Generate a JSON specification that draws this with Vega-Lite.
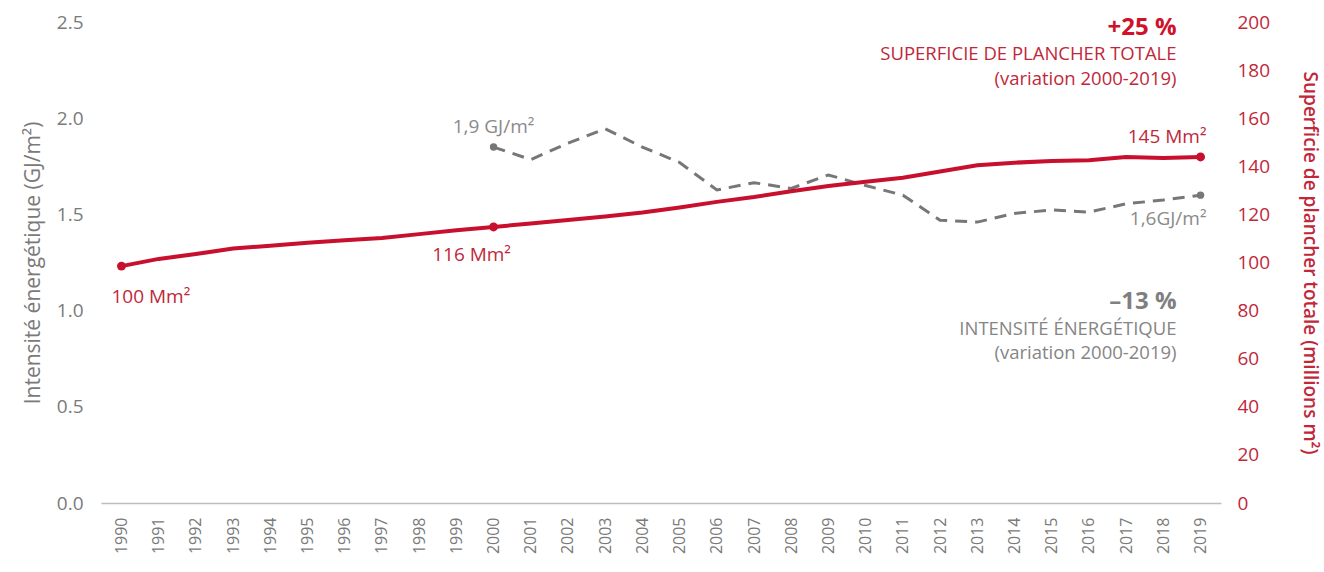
{
  "$schema": "https://vega.github.io/schema/vega-lite/v6.json",
  "width": 1120,
  "height": 481,
  "autosize": {"type": "none"},
  "padding": {"left": 101, "top": 22, "right": 103, "bottom": 69},
  "background": "white",
  "config": {
    "view": {"stroke": null},
    "font": "Open Sans",
    "axis": {"grid": false, "ticks": false}
  },
  "datasets": {
    "area": [
      {"year": 1990, "v": 98.5}, {"year": 1991, "v": 101.5}, {"year": 1992, "v": 103.5},
      {"year": 1993, "v": 105.8}, {"year": 1994, "v": 107.0}, {"year": 1995, "v": 108.2},
      {"year": 1996, "v": 109.3}, {"year": 1997, "v": 110.2}, {"year": 1998, "v": 111.8},
      {"year": 1999, "v": 113.4}, {"year": 2000, "v": 114.8}, {"year": 2001, "v": 116.2},
      {"year": 2002, "v": 117.7}, {"year": 2003, "v": 119.1}, {"year": 2004, "v": 120.8},
      {"year": 2005, "v": 122.9}, {"year": 2006, "v": 125.2}, {"year": 2007, "v": 127.2},
      {"year": 2008, "v": 129.6}, {"year": 2009, "v": 131.8}, {"year": 2010, "v": 133.6},
      {"year": 2011, "v": 135.2}, {"year": 2012, "v": 137.8}, {"year": 2013, "v": 140.4},
      {"year": 2014, "v": 141.5}, {"year": 2015, "v": 142.2}, {"year": 2016, "v": 142.5},
      {"year": 2017, "v": 143.9}, {"year": 2018, "v": 143.5}, {"year": 2019, "v": 143.9}
    ],
    "intensity": [
      {"year": 2000, "v": 1.85}, {"year": 2001, "v": 1.785}, {"year": 2002, "v": 1.87},
      {"year": 2003, "v": 1.945}, {"year": 2004, "v": 1.85}, {"year": 2005, "v": 1.77},
      {"year": 2006, "v": 1.627}, {"year": 2007, "v": 1.665}, {"year": 2008, "v": 1.635},
      {"year": 2009, "v": 1.705}, {"year": 2010, "v": 1.65}, {"year": 2011, "v": 1.6},
      {"year": 2012, "v": 1.47}, {"year": 2013, "v": 1.46}, {"year": 2014, "v": 1.505},
      {"year": 2015, "v": 1.523}, {"year": 2016, "v": 1.512}, {"year": 2017, "v": 1.555},
      {"year": 2018, "v": 1.575}, {"year": 2019, "v": 1.6}
    ]
  },
  "encoding": {
    "x": {
      "field": "year",
      "type": "ordinal",
      "scale": {"type": "point", "padding": 0.55},
      "axis": {
        "title": null,
        "labelAngle": -90,
        "labelPadding": 14,
        "labelFontSize": 16,
        "labelColor": "#7a7a7a",
        "domainColor": "#bdbdbd",
        "domainWidth": 1.5
      }
    }
  },
  "layer": [
    {
      "encoding": {
        "y": {
          "field": "v",
          "type": "quantitative",
          "scale": {"domain": [0, 2.5], "nice": false},
          "axis": {
            "orient": "left",
            "values": [0, 0.5, 1, 1.5, 2, 2.5],
            "format": ".1f",
            "domain": false,
            "labelPadding": 18,
            "labelFontSize": 19,
            "labelColor": "#7a7a7a",
            "title": "Intensité énergétique (GJ/m²)",
            "titleFontSize": 21,
            "titleFontWeight": "normal",
            "titleColor": "#7a7a7a",
            "titlePadding": 13
          }
        }
      },
      "layer": [
        {
          "data": {"name": "intensity"},
          "mark": {"type": "line", "color": "#777777", "strokeWidth": 3, "strokeDash": [12, 8]}
        },
        {
          "data": {"name": "intensity"},
          "transform": [{"filter": "datum.year == 2000 || datum.year == 2019"}],
          "mark": {"type": "point", "filled": true, "color": "#777777", "size": 55, "opacity": 1}
        },
        {
          "data": {"values": [{"year": 2000, "v": 1.85, "label": "1,9 GJ/m²"}]},
          "mark": {"type": "text", "color": "#8a8a8a", "fontSize": 19, "align": "center", "baseline": "middle", "dy": -20},
          "encoding": {"text": {"field": "label"}}
        },
        {
          "data": {"values": [{"year": 2019, "v": 1.6, "label": "1,6GJ/m²"}]},
          "mark": {"type": "text", "color": "#8a8a8a", "fontSize": 19, "align": "right", "baseline": "middle", "dx": 6, "dy": 24},
          "encoding": {"text": {"field": "label"}}
        },
        {
          "data": {"values": [{"year": 2019, "v": 1.045, "label": "–13 %"}]},
          "mark": {"type": "text", "color": "#7f7f7f", "fontSize": 24, "fontWeight": "bold", "align": "right", "baseline": "middle", "dx": -24},
          "encoding": {"text": {"field": "label"}}
        },
        {
          "data": {"values": [
            {"year": 2019, "v": 0.906, "label": "INTENSITÉ ÉNERGÉTIQUE"},
            {"year": 2019, "v": 0.778, "label": "(variation 2000-2019)"}
          ]},
          "mark": {"type": "text", "color": "#858585", "fontSize": 18.5, "align": "right", "baseline": "middle", "dx": -24},
          "encoding": {"text": {"field": "label"}}
        }
      ]
    },
    {
      "encoding": {
        "y": {
          "field": "v",
          "type": "quantitative",
          "scale": {"domain": [0, 200], "nice": false},
          "axis": {
            "orient": "right",
            "values": [0, 20, 40, 60, 80, 100, 120, 140, 160, 180, 200],
            "domain": false,
            "labelPadding": 16,
            "labelFontSize": 19,
            "labelColor": "#c0283a",
            "title": "Superficie de plancher totale (millions m²)",
            "titleFontSize": 19,
            "titleFontWeight": 600,
            "titleColor": "#c0283a",
            "titlePadding": 30
          }
        }
      },
      "layer": [
        {
          "data": {"name": "area"},
          "mark": {"type": "line", "color": "#c8102e", "strokeWidth": 4}
        },
        {
          "data": {"name": "area"},
          "transform": [{"filter": "datum.year == 1990 || datum.year == 2000 || datum.year == 2019"}],
          "mark": {"type": "point", "filled": true, "color": "#c8102e", "size": 80, "opacity": 1}
        },
        {
          "data": {"values": [{"year": 1990, "v": 98.5, "label": "100 Mm²"}]},
          "mark": {"type": "text", "color": "#c0283a", "fontSize": 19, "align": "left", "baseline": "middle", "dx": -10, "dy": 31},
          "encoding": {"text": {"field": "label"}}
        },
        {
          "data": {"values": [{"year": 2000, "v": 114.8, "label": "116 Mm²"}]},
          "mark": {"type": "text", "color": "#c0283a", "fontSize": 19, "align": "center", "baseline": "middle", "dx": -22, "dy": 28},
          "encoding": {"text": {"field": "label"}}
        },
        {
          "data": {"values": [{"year": 2019, "v": 143.9, "label": "145 Mm²"}]},
          "mark": {"type": "text", "color": "#c0283a", "fontSize": 19, "align": "right", "baseline": "middle", "dx": 6, "dy": -20},
          "encoding": {"text": {"field": "label"}}
        },
        {
          "data": {"values": [{"year": 2019, "v": 197.5, "label": "+25 %"}]},
          "mark": {"type": "text", "color": "#d0112b", "fontSize": 24, "fontWeight": "bold", "align": "right", "baseline": "middle", "dx": -24},
          "encoding": {"text": {"field": "label"}}
        },
        {
          "data": {"values": [
            {"year": 2019, "v": 186.6, "label": "SUPERFICIE DE PLANCHER TOTALE"},
            {"year": 2019, "v": 176.5, "label": "(variation 2000-2019)"}
          ]},
          "mark": {"type": "text", "color": "#c0283a", "fontSize": 18.5, "align": "right", "baseline": "middle", "dx": -24},
          "encoding": {"text": {"field": "label"}}
        }
      ]
    }
  ],
  "resolve": {"scale": {"y": "independent"}}
}
